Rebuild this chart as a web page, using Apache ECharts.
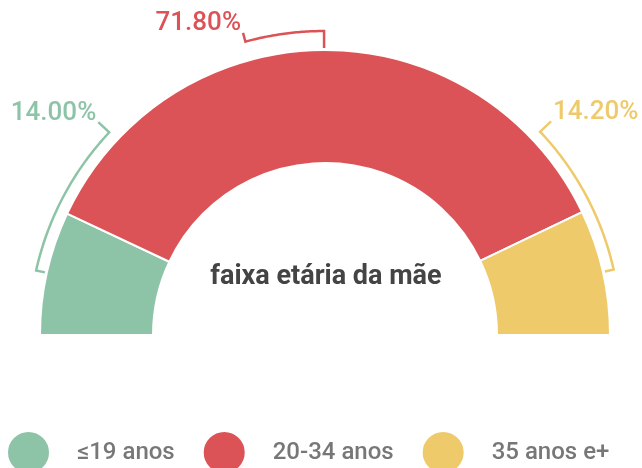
<!DOCTYPE html>
<html>
<head>
<meta charset="utf-8">
<script src="https://cdn.jsdelivr.net/npm/echarts@6/dist/echarts.min.js"></script>
<style>
html,body{margin:0;padding:0;background:#fff;}
#chart{width:642px;height:468px;}
</style>
</head>
<body>
<div id="chart"></div>
<script>
// ---- data ----
const categories = ['≤19 anos', '20-34 anos', '35 anos e+'];
const values = [14.00, 71.80, 14.20];
const labels = ['14.00%', '71.80%', '14.20%'];
const centerTitle = 'faixa etária da mãe';

// ---- style / layout ----
const colors = ['#8DC4A8', '#DB5356', '#EFCA6A'];
const cx = 325, cy = 335, rIn = 172, rOut = 285;
// bracket config per slice: arc radius, angular span (deg, + = counter-clockwise), outer tick length, label alignment
const bracketR = [296, 304, 296];
const bracketSpan = [-30.6, 15, 30.6];
const tickOut = [15, 9, 15];
const labelAlign = ['right', 'right', 'left'];

const chart = echarts.init(document.getElementById('chart'), null, {renderer: 'canvas'});

function pt(r, deg) {
  const a = deg * Math.PI / 180;
  return [cx + r * Math.cos(a), cy - r * Math.sin(a)];
}

const total = values.reduce((a, b) => a + b, 0);
const graphics = [];
let start = 180;
values.forEach((v, i) => {
  const sweep = v / total * 180;
  const mid = start - sweep / 2;
  start -= sweep;
  const R = bracketR[i];
  const end = mid + bracketSpan[i];
  const pts = [pt(rOut + 2, mid)];
  const steps = 40;
  for (let k = 0; k <= steps; k++) {
    pts.push(pt(R, mid + (end - mid) * k / steps));
  }
  const tipEnd = pt(R + tickOut[i], end);
  pts.push(tipEnd);
  graphics.push({
    type: 'polyline',
    shape: {points: pts},
    style: {stroke: colors[i], lineWidth: 2.5, fill: null, lineJoin: 'miter'},
    silent: true
  });
  graphics.push({
    type: 'text',
    x: tipEnd[0] + (labelAlign[i] === 'right' ? -2 : 2),
    y: tipEnd[1] - 9,
    style: {
      text: labels[i],
      fill: colors[i],
      font: '500 26px Roboto',
      align: labelAlign[i],
      verticalAlign: 'middle'
    },
    silent: true
  });
});

graphics.push({
  type: 'text',
  x: 326,
  y: 277,
  style: {
    text: centerTitle,
    fill: '#444444',
    font: 'bold 27px Roboto',
    align: 'center',
    verticalAlign: 'middle'
  }
});

chart.setOption({
  animation: false,
  color: colors,
  legend: {
    data: categories,
    left: 6,
    top: 430,
    padding: 0,
    icon: 'circle',
    itemWidth: 43,
    itemHeight: 43,
    itemGap: 27,
    textStyle: {fontFamily: 'Roboto', fontWeight: 500, fontSize: 24, color: '#777777', padding: [0, 0, 0, 22]}
  },
  series: [{
    type: 'pie',
    center: [cx, cy],
    radius: [rIn, rOut],
    startAngle: 180,
    endAngle: 0,
    clockwise: true,
    avoidLabelOverlap: false,
    label: {show: false},
    labelLine: {show: false},
    itemStyle: {borderColor: '#ffffff', borderWidth: 2},
    emphasis: {disabled: true},
    data: categories.map((c, i) => ({name: c, value: values[i]}))
  }],
  graphic: graphics
});
</script>
</body>
</html>
